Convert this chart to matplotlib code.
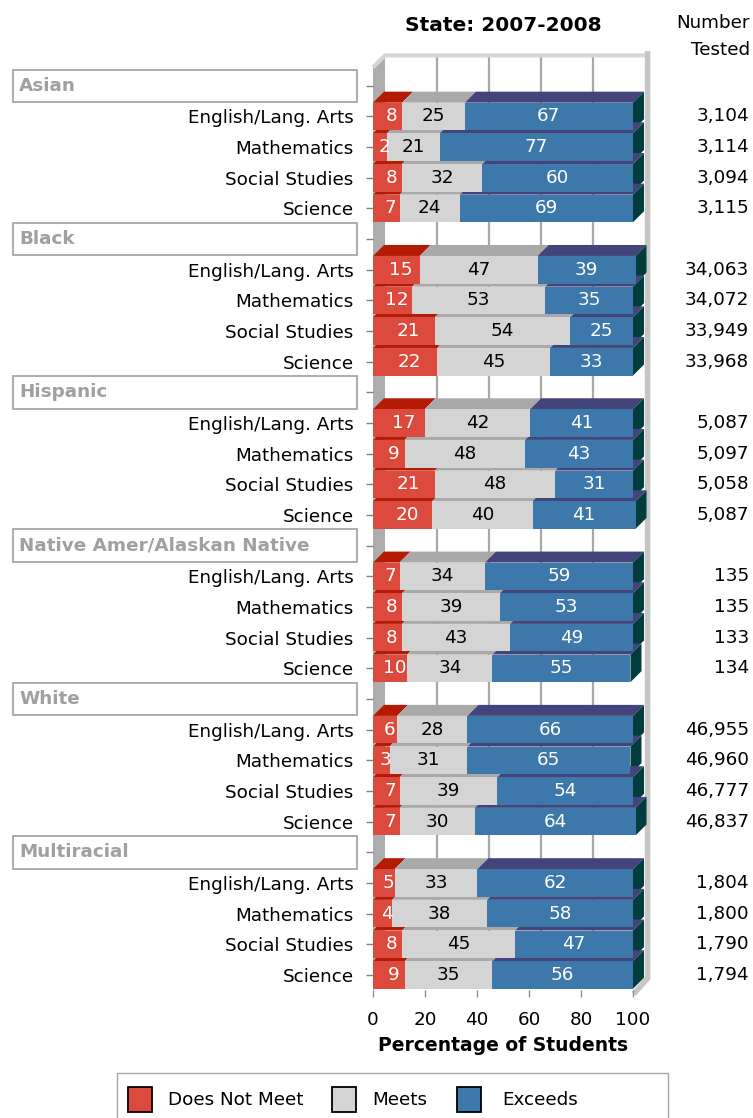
import numpy as np
import matplotlib
matplotlib.use("Agg")
import matplotlib.pyplot as plt
import matplotlib.transforms as mtransforms
from matplotlib.patches import Polygon, Rectangle

groups = ["Asian", "Black", "Hispanic", "Native Amer/Alaskan Native", "White", "Multiracial"]
subjects = ["English/Lang. Arts", "Mathematics", "Social Studies", "Science"]

does_not_meet = [8, 2, 8, 7, 15, 12, 21, 22, 17, 9, 21, 20,
                 7, 8, 8, 10, 6, 3, 7, 7, 5, 4, 8, 9]
meets = [25, 21, 32, 24, 47, 53, 54, 45, 42, 48, 48, 40,
         34, 39, 43, 34, 28, 31, 39, 30, 33, 38, 45, 35]
exceeds = [67, 77, 60, 69, 39, 35, 25, 33, 41, 43, 31, 41,
           59, 53, 49, 55, 66, 65, 54, 64, 62, 58, 47, 56]
number_tested = ["3,104", "3,114", "3,094", "3,115",
                 "34,063", "34,072", "33,949", "33,968",
                 "5,087", "5,097", "5,058", "5,087",
                 "135", "135", "133", "134",
                 "46,955", "46,960", "46,777", "46,837",
                 "1,804", "1,800", "1,790", "1,794"]

x_ticks = [0, 20, 40, 60, 80, 100]
legend_labels = ["Does Not Meet", "Meets", "Exceeds"]

# colours: front, top, side
RED = ("#DC4A3E", "#B41A04")
GRAY = ("#D4D4D4", "#A9A9A9")
BLUE = ("#3D78AA", "#43457A", "#013D3D")

W, H = 753, 1118
fig = plt.figure(figsize=(W / 100, H / 100), dpi=100)


def fx(px):
    return px / W


def fy(py):
    return 1 - py / H


FS = 13.2
TOP_PX, BOT_PX = 67.4, 990.3
Y_TOP, Y_BOT = -0.6, 29.5
ROW_PX = (BOT_PX - TOP_PX) / (Y_BOT - Y_TOP)

# frame axes (gridlines, ticks): 0..100 at 373..633 px
ax = fig.add_axes([fx(373), fy(BOT_PX), fx(633) - fx(373), fy(TOP_PX) - fy(BOT_PX)])
# bar axes: 0..100 at 382..633 px
axb = fig.add_axes([fx(382), fy(BOT_PX), fx(633) - fx(382), fy(TOP_PX) - fy(BOT_PX)])
for a in (ax, axb):
    a.set_ylim(Y_BOT, Y_TOP)
    a.set_xlim(0, 100)
    for s in a.spines.values():
        s.set_visible(False)
axb.set_axis_off()
axb.patch.set_visible(False)

px_ax = 260 / 100
px_b = 251 / 100
DX = 12 / px_ax
DY = 12 / ROW_PX
DXB = 11 / px_b
DYB = 11 / ROW_PX
LO = -(382 - 373) / px_b

# walls
ax.add_patch(Polygon([(0, Y_BOT), (0, Y_TOP), (DX, Y_TOP - DY), (DX, Y_BOT - DY)],
                     closed=True, facecolor="#ADADAD", edgecolor="none", zorder=1, clip_on=False))
for t in x_ticks[1:-1]:
    ax.plot([t + DX, t + DX], [Y_TOP - DY, Y_BOT - DY], color="#A8A8A8", lw=1.6, zorder=0.5, clip_on=False)
ax.plot([0, DX, 100 + DX], [Y_TOP, Y_TOP - DY, Y_TOP - DY], color="#D6D6D6", lw=3, zorder=1,
        solid_capstyle="butt", clip_on=False)
ax.plot([100 + DX + 1, 100 + DX + 1, 100 + 1], [Y_TOP - DY - 0.05, Y_BOT - DY, Y_BOT + 0.05],
        color="#C6C6C6", lw=4, zorder=1, clip_on=False)

# rows
row_labels = []
header_rows = []
subject_rows = []
r = 0
for g in groups:
    header_rows.append(r)
    row_labels.append("")
    r += 1
    for s in subjects:
        subject_rows.append(r)
        row_labels.append(s)
        r += 1

ax.set_yticks(range(len(row_labels)))
ax.set_yticklabels(row_labels, fontsize=FS)
ax.tick_params(axis="y", length=5, width=1, color="#808080", pad=9)
ax.set_xticks(x_ticks)
ax.set_xticklabels([str(t) for t in x_ticks], fontsize=FS)
ax.tick_params(axis="x", length=5, width=1, color="#909090", pad=10)
ax.set_xlabel("Percentage of Students", fontsize=13.5, fontweight="bold", labelpad=5)

# bars
h = 0.9
dnm = np.array(does_not_meet, dtype=float)
mt = np.array(meets, dtype=float)
ex = np.array(exceeds, dtype=float)
ys = np.array(subject_rows, dtype=float)
starts = [np.full_like(dnm, LO), dnm, dnm + mt]
ends = [dnm, dnm + mt, dnm + mt + ex]
cols = [RED, GRAY, BLUE]
text_cols = ["white", "black", "white"]
vals = [does_not_meet, meets, exceeds]

for k in range(3):
    bars = axb.barh(ys, ends[k] - starts[k], left=starts[k], height=h, color=cols[k][0], zorder=3)
    for b in bars:
        b.set_clip_on(False)

for i in range(len(ys)):
    y = ys[i]
    yt = y - h / 2
    yb = y + h / 2
    for k in range(3):
        x0, x1 = starts[k][i], ends[k][i]
        axb.add_patch(Polygon([(x0, yt), (x1, yt), (x1 + DXB, yt - DYB), (x0 + DXB, yt - DYB)],
                              closed=True, facecolor=cols[k][1], edgecolor="none", zorder=2, clip_on=False))
        xc = (max(x0, 0) + x1) / 2
        axb.text(xc, y, str(vals[k][i]), ha="center", va="center", fontsize=FS,
                 color=text_cols[k], zorder=5)
    xe = ends[2][i]
    axb.add_patch(Polygon([(xe, yt), (xe, yb), (xe + DXB, yb - DYB), (xe + DXB, yt - DYB)],
                          closed=True, facecolor=BLUE[2], edgecolor="none", zorder=2, clip_on=False))

# header boxes
trans = mtransforms.blended_transform_factory(fig.transFigure, ax.transData)
for g, hr in zip(groups, header_rows):
    fig.patches.append(Rectangle((fx(13), hr - 0.53), fx(357) - fx(13), 1.06, transform=trans,
                                 facecolor="white", edgecolor="#A6A6A6", lw=1.3))
    fig.text(fx(19), hr, g, transform=trans, fontsize=FS, fontweight="bold",
             color="#A0A0A0", ha="left", va="center")

# number tested column
for n, sr in zip(number_tested, subject_rows):
    fig.text(fx(749), sr, n, transform=trans, fontsize=FS, ha="right", va="center")

fig.text(fx(503), fy(31), "State: 2007-2008", fontsize=14.5, fontweight="bold", ha="center", va="baseline")
fig.text(fx(750), fy(28), "Number", fontsize=FS, ha="right", va="baseline")
fig.text(fx(750), fy(55), "Tested", fontsize=FS, ha="right", va="baseline")

# legend
fig.patches.append(Rectangle((fx(117), fy(1130)), fx(668) - fx(117), fy(1073) - fy(1130),
                             transform=fig.transFigure, facecolor="white", edgecolor="#A6A6A6", lw=1))
leg_sq = [(128, RED[0]), (332, GRAY[0]), (457, BLUE[0])]
leg_tx = [168, 372, 502]
for (sx, c), tx, lab in zip(leg_sq, leg_tx, legend_labels):
    fig.patches.append(Rectangle((fx(sx), fy(1112)), fx(sx + 24) - fx(sx), fy(1087) - fy(1112),
                                 transform=fig.transFigure, facecolor=c, edgecolor="black", lw=1.3))
    fig.text(fx(tx), fy(1100), lab, fontsize=FS, ha="left", va="center")

fig.savefig("out.png", dpi=100)
